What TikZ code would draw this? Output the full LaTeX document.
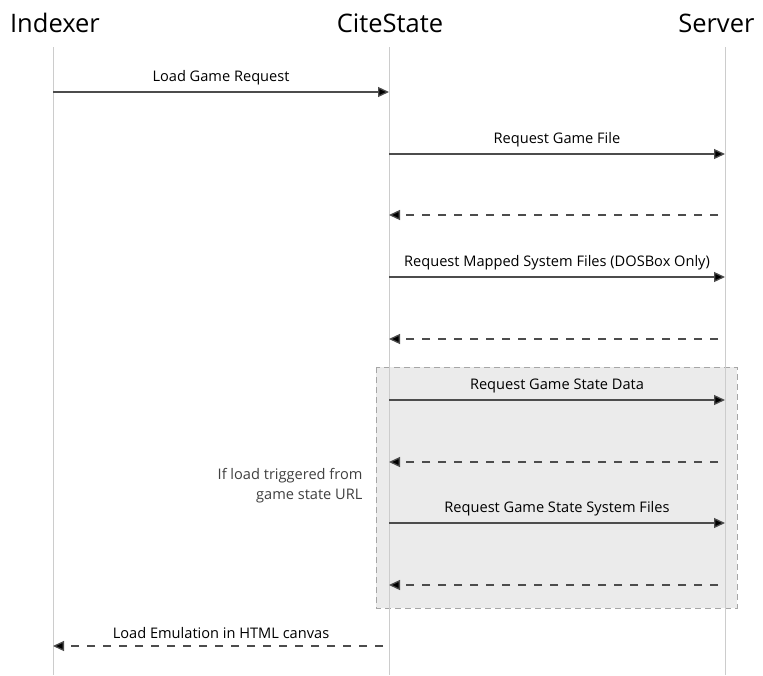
\documentclass[tikz,border=0pt]{standalone}
\usepackage{fontspec}
\setmainfont{Open Sans}
\usetikzlibrary{arrows.meta}

\begin{document}
\begin{tikzpicture}[
  x=1pt, y=-1pt,
  actor/.style={font=\fontsize{25.5}{28}\selectfont},
  lifeline/.style={draw=black!20, line width=0.8pt},
  msg/.style={draw=black!70, line width=1.3pt, -{Triangle[length=11pt,width=10pt,fill=black]}},
  reply/.style={msg, dash pattern=on 8pt off 8pt},
  lbl/.style={font=\fontsize{14.6}{16}\selectfont, above=3pt}
]
\useasboundingbox (0,0) rectangle (763,675);
% the optional block, behind everything
\filldraw [fill=black!8, draw=black!35, line width=0.8pt, dash pattern=on 6pt off 4pt]
  (376,367) rectangle (737,608);
% actors and their lifelines
\node[actor, anchor=base] (idx) at (55,32) {Indexer};
\node[actor, anchor=base] (cs)  at (390,32) {CiteState};
\node[actor, anchor=base east] (srv) at (758,32) {Server};
\coordinate (idxL) at (53,0);
\coordinate (csL)  at (389,0);
\coordinate (srvL) at (725,0);
\foreach \l in {idxL,csL,srvL}
  \draw[lifeline] (\l |- 0,47) -- (\l |- 0,675);
% message rows
\coordinate (r1) at (0,92);
\coordinate (r2) at (0,154);
\coordinate (r3) at (0,215);
\coordinate (r4) at (0,277);
\coordinate (r5) at (0,339);
\coordinate (r6) at (0,400);
\coordinate (r7) at (0,462);
\coordinate (r8) at (0,523);
\coordinate (r9) at (0,585);
\coordinate (r10) at (0,646);
\draw[msg] (idxL |- r1) -- node[lbl] {Load Game Request} (csL |- r1);
\draw[msg] (csL |- r2) -- node[lbl] {Request Game File} (srvL |- r2);
\draw[reply, shorten <=7pt] (srvL |- r3) -- (csL |- r3);
\draw[msg] (csL |- r4) -- node[lbl] {Request Mapped System Files (DOSBox Only)} (srvL |- r4);
\draw[reply, shorten <=7pt] (srvL |- r5) -- (csL |- r5);
\draw[msg] (csL |- r6) -- node[lbl] {Request Game State Data} (srvL |- r6);
\draw[reply, shorten <=7pt] (srvL |- r7) -- (csL |- r7);
\draw[msg] (csL |- r8) -- node[lbl] {Request Game State System Files} (srvL |- r8);
\draw[reply, shorten <=7pt] (srvL |- r9) -- (csL |- r9);
\draw[reply, shorten <=6pt] (csL |- r10) -- node[lbl] {Load Emulation in HTML canvas} (idxL |- r10);
% guard note
\node[font=\fontsize{14.6}{20}\selectfont, align=right, anchor=east, text=black!75] (note) at (366,486)
  {If load triggered from\\game state URL};
\end{tikzpicture}
\end{document}
